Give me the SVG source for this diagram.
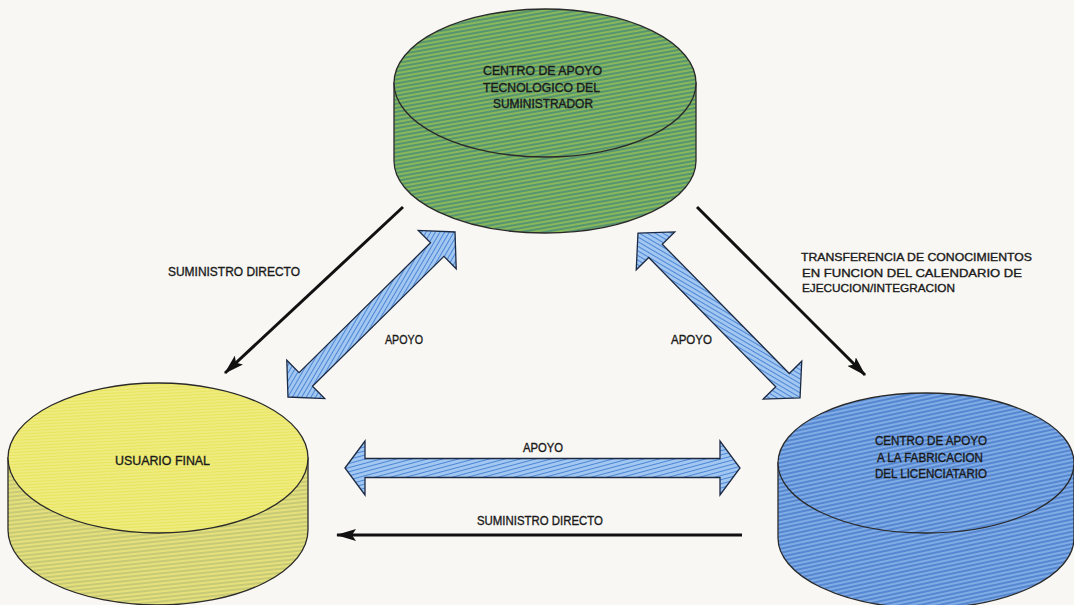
<svg xmlns="http://www.w3.org/2000/svg" width="1074" height="605" viewBox="0 0 1074 605">
  <defs>
    <!-- fine print-screen hatching for each body colour -->
    <pattern id="hatchGreen" width="6" height="4" patternUnits="userSpaceOnUse" patternTransform="rotate(-10)">
      <rect width="6" height="4" fill="#64a04c"/>
      <line x1="0" y1="1" x2="6" y2="1" stroke="#aed06a" stroke-width="1"/>
      <line x1="0" y1="3" x2="6" y2="3" stroke="#4585a0" stroke-width="0.9"/>
    </pattern>
    <pattern id="hatchYellowTop" width="6" height="3" patternUnits="userSpaceOnUse" patternTransform="rotate(-3)">
      <rect width="6" height="3" fill="#e9e55c"/>
      <line x1="0" y1="1" x2="6" y2="1" stroke="#f4f2a4" stroke-width="1"/>
    </pattern>
    <pattern id="hatchYellowSide" width="6" height="4" patternUnits="userSpaceOnUse" patternTransform="rotate(-6)">
      <rect width="6" height="4" fill="#dcd66a"/>
      <line x1="0" y1="1" x2="6" y2="1" stroke="#efeb8e" stroke-width="1"/>
      <line x1="0" y1="3" x2="6" y2="3" stroke="#adbb86" stroke-width="0.9"/>
    </pattern>
    <pattern id="hatchBlue" width="6" height="4" patternUnits="userSpaceOnUse" patternTransform="rotate(-12)">
      <rect width="6" height="4" fill="#6496da"/>
      <line x1="0" y1="1" x2="6" y2="1" stroke="#9cc2f2" stroke-width="1"/>
      <line x1="0" y1="3" x2="6" y2="3" stroke="#4474c4" stroke-width="0.9"/>
    </pattern>
    <pattern id="hatchArrow" width="5" height="4" patternUnits="userSpaceOnUse" patternTransform="rotate(-15)">
      <rect width="5" height="4" fill="#a2c7f1"/>
      <line x1="0" y1="1.5" x2="5" y2="1.5" stroke="#4d86d6" stroke-width="1"/>
    </pattern>
    <marker id="head" viewBox="0 0 20 12" refX="19" refY="6" markerWidth="20" markerHeight="12" markerUnits="userSpaceOnUse" orient="auto">
      <path d="M0,0 L20,6 L0,12 L4,6 Z" fill="#111"/>
    </marker>
    <style>
      .rim { stroke: #2a2a2a; stroke-width: 1.3; }
      .flow { fill: none; stroke: #111; stroke-width: 3; marker-end: url(#head); }
      .twoway { fill: url(#hatchArrow); stroke: #1d2a44; stroke-width: 1.3; stroke-linejoin: miter; }
      .lbl { font-family: "Liberation Sans Narrow", "Liberation Sans", Arial, sans-serif; fill: #1a1a1a; stroke: #1a1a1a; stroke-width: 0.35; }
    </style>
  </defs>

  <rect width="1074" height="605" fill="#f8f7f3"/>

  <!-- supplier technology centre -->
  <g id="node-suministrador">
    <path class="rim" d="M394,83 L394,161 A151,72 0 0 0 696,161 L696,83 Z" fill="url(#hatchGreen)"/>
    <ellipse class="rim" cx="545" cy="83" rx="151" ry="74" fill="url(#hatchGreen)"/>
    <text class="lbl" font-size="12" x="483" y="75" textLength="119" lengthAdjust="spacingAndGlyphs">CENTRO DE APOYO</text>
    <text class="lbl" font-size="12" x="483" y="92" textLength="117" lengthAdjust="spacingAndGlyphs">TECNOLOGICO DEL</text>
    <text class="lbl" font-size="12" x="493" y="108" textLength="100" lengthAdjust="spacingAndGlyphs">SUMINISTRADOR</text>
  </g>

  <!-- end user -->
  <g id="node-usuario">
    <path class="rim" d="M8,458 L8,530 A150,75 0 0 0 308,530 L308,458 Z" fill="url(#hatchYellowSide)"/>
    <ellipse class="rim" cx="158" cy="458" rx="150" ry="75" fill="url(#hatchYellowTop)"/>
    <text class="lbl" font-size="13" x="115" y="465" textLength="95" lengthAdjust="spacingAndGlyphs">USUARIO FINAL</text>
  </g>

  <!-- licensee manufacturing centre -->
  <g id="node-licenciatario">
    <path class="rim" d="M778,463 L778,538 A148,70 0 0 0 1074,538 L1074,463 Z" fill="url(#hatchBlue)"/>
    <ellipse class="rim" cx="926" cy="463" rx="148" ry="70" fill="url(#hatchBlue)"/>
    <text class="lbl" font-size="12" x="875" y="445" textLength="112" lengthAdjust="spacingAndGlyphs">CENTRO DE APOYO</text>
    <text class="lbl" font-size="12" x="877" y="462" textLength="106" lengthAdjust="spacingAndGlyphs">A LA FABRICACION</text>
    <text class="lbl" font-size="12" x="875" y="478" textLength="112" lengthAdjust="spacingAndGlyphs">DEL LICENCIATARIO</text>
  </g>

  <g id="connectors">
    <!-- one-way supply / transfer lines -->
    <line class="flow" x1="403" y1="207" x2="225" y2="373"/>
    <line class="flow" x1="697" y1="207" x2="865" y2="375"/>
    <line class="flow" x1="742" y1="535" x2="337" y2="535"/>

    <!-- two-way support arrows -->
    <polygon class="twoway" transform="translate(371.5,314.5) rotate(-44.65)"
      points="-117.4,0 -92.4,-27 -92.4,-9.5 92.4,-9.5 92.4,-27 117.4,0 92.4,27 92.4,9.5 -92.4,9.5 -92.4,27"/>
    <polygon class="twoway" transform="translate(719,315.5) rotate(45.5)"
      points="-115.6,0 -90.6,-27 -90.6,-9.5 90.6,-9.5 90.6,-27 115.6,0 90.6,27 90.6,9.5 -90.6,9.5 -90.6,27"/>
    <polygon class="twoway" transform="translate(542.5,468)"
      points="-197.5,0 -177.5,-27 -177.5,-9.5 177.5,-9.5 177.5,-27 197.5,0 177.5,27 177.5,9.5 -177.5,9.5 -177.5,27"/>

    <!-- connector labels -->
    <text class="lbl" font-size="12.5" x="168" y="276" textLength="132" lengthAdjust="spacingAndGlyphs">SUMINISTRO DIRECTO</text>
    <text class="lbl" font-size="12.5" x="385" y="344" textLength="38" lengthAdjust="spacingAndGlyphs">APOYO</text>
    <text class="lbl" font-size="12.5" x="671" y="344" textLength="41" lengthAdjust="spacingAndGlyphs">APOYO</text>
    <text class="lbl" font-size="12" x="523" y="452" textLength="40" lengthAdjust="spacingAndGlyphs">APOYO</text>
    <text class="lbl" font-size="12.5" x="477" y="525" textLength="126" lengthAdjust="spacingAndGlyphs">SUMINISTRO DIRECTO</text>
    <text class="lbl" font-size="11.5" x="801" y="261" textLength="231" lengthAdjust="spacingAndGlyphs">TRANSFERENCIA DE CONOCIMIENTOS</text>
    <text class="lbl" font-size="11.5" x="802" y="277" textLength="220" lengthAdjust="spacingAndGlyphs">EN FUNCION DEL CALENDARIO DE</text>
    <text class="lbl" font-size="11.5" x="802" y="292" textLength="153" lengthAdjust="spacingAndGlyphs">EJECUCION/INTEGRACION</text>
  </g>
</svg>
